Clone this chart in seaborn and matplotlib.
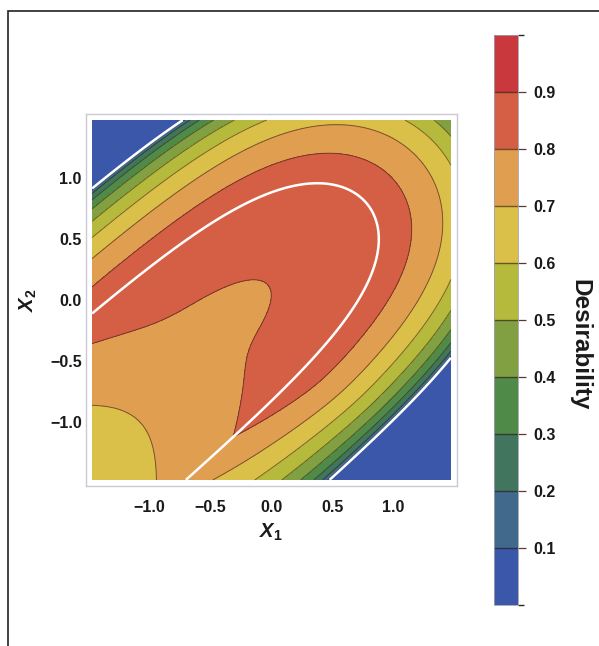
import numpy as np
import matplotlib
matplotlib.use("Agg")
import matplotlib.pyplot as plt
import seaborn as sns
from matplotlib.colors import ListedColormap, BoundaryNorm
from matplotlib.patches import Rectangle

# ---------------- data ----------------
x_limits = [-1.47, 1.47]
levels = [0.0, 0.1, 0.2, 0.3, 0.4, 0.5, 0.6, 0.7, 0.8, 0.9, 1.0]
band_colors = ["#3B57A9", "#41698C", "#42755E", "#4F8A48", "#80A042",
               "#B5BA3D", "#DABF49", "#E09E50", "#D45F45", "#C9383C"]
axis_ticks = [-1.0, -0.5, 0.0, 0.5, 1.0]
axis_tick_labels = ["\u22121.0", "\u22120.5", "0.0", "0.5", "1.0"]
cbar_ticks = [0.1, 0.2, 0.3, 0.4, 0.5, 0.6, 0.7, 0.8, 0.9]
cbar_tick_labels = ["0.1", "0.2", "0.3", "0.4", "0.5", "0.6", "0.7", "0.8", "0.9"]

# fitted response y1 (u along the ridge, v across it)
ridge_center = [0.12, -0.07]        # v-centre = c0 + c1*u
ridge_halfwidth = [0.78]
ridge_growth = [1.45, 1.06, 14.0]   # rate, tip position, saturation
y1_limits = [-3.86, 1.0, 4.0]       # lower, target, upper
# second response desirability (plane + interaction, capped)
d2_coefs = [0.845, 0.0516, 0.1624, -0.02]   # const, x1, x2, x1*x2
d2_cap = [0.76]

# ---------------- style ----------------
sns.set_theme(style="white")
plt.rcParams['font.family'] = ['Liberation Sans', 'DejaVu Sans']
plt.rcParams['mathtext.fontset'] = 'custom'
plt.rcParams['mathtext.it'] = 'Liberation Sans:italic:bold'
plt.rcParams['mathtext.rm'] = 'Liberation Sans:bold'
plt.rcParams['mathtext.bf'] = 'Liberation Sans:bold'
palette = sns.color_palette(band_colors)
cmap = ListedColormap(palette)
norm = BoundaryNorm(levels, cmap.N)

# ---------------- surface ----------------
g = np.linspace(x_limits[0], x_limits[1], 600)
X1, X2 = np.meshgrid(g, g)
U = (X1 + X2) / np.sqrt(2)
V = (X2 - X1) / np.sqrt(2)
vc = ridge_center[0] + ridge_center[1] * U
k, u1, H = ridge_growth
hu = np.exp(k * (U - u1))
hu = hu / (1 + hu / H)
Y1 = ((V - vc) / ridge_halfwidth[0]) ** 2 + hu
L, T, Up = y1_limits
d1 = np.where(Y1 <= T, (Y1 - L) / (T - L), np.clip((Up - Y1) / (Up - T), 0, 1))
plane = d2_coefs[0] + d2_coefs[1] * X1 + d2_coefs[2] * X2 + d2_coefs[3] * X1 * X2
tau = 0.015
d2 = -tau * np.logaddexp(-plane / tau, -d2_cap[0] / tau)
D = np.clip(np.sqrt(d1 * d2), 0, 1)

# ---------------- figure ----------------
fig = plt.figure(figsize=(5.99, 6.46), dpi=100)
ax = fig.add_axes([86 / 599, 1 - 486 / 646, 371 / 599, 372 / 646])
cf = ax.contourf(X1, X2, D, levels=levels, cmap=cmap, norm=norm)
ax.contour(X1, X2, D, levels=levels[1:-1], colors=[(0.15, 0.08, 0.05, 0.55)],
           linewidths=0.7)
ax.contour(X1, X2, Y1, levels=[T, Up], colors="white", linewidths=1.8)
ax.set_xlim(-1.52, 1.52)
ax.set_ylim(-1.52, 1.52)
ax.set_xticks(axis_ticks)
ax.set_xticklabels(axis_tick_labels)
ax.set_yticks(axis_ticks)
ax.set_yticklabels(axis_tick_labels)
ax.tick_params(axis='x', length=0, pad=10, labelsize=11.5, labelcolor='#1a1a1a')
ax.tick_params(axis='y', length=0, pad=3, labelsize=11.5, labelcolor='#1a1a1a')
for lab in ax.get_xticklabels() + ax.get_yticklabels():
    lab.set_fontweight('bold')
for s in ax.spines.values():
    s.set_color('#C9CAD6')
    s.set_linewidth(1.0)

fig.text(271 / 599, 1 - 532 / 646, r"$X_1$", ha='center', va='center',
         fontsize=14.5, color='#1a1a1a')
fig.text(28 / 599, 1 - 300 / 646, r"$X_2$", ha='center', va='center',
         fontsize=14.5, rotation=90, color='#1a1a1a')

cax = fig.add_axes([494 / 599, 1 - 605 / 646, 24 / 599, 570 / 646])
cb = fig.colorbar(cf, cax=cax, ticks=cbar_ticks, drawedges=True)
cb.ax.set_yticklabels(cbar_tick_labels)
cb.outline.set_edgecolor('#A0A0A8')
cb.outline.set_linewidth(0.6)
cb.dividers.set_color((0.15, 0.08, 0.05, 0.6))
cb.dividers.set_linewidth(1.0)
cb.ax.tick_params(length=6, width=0.9, color='#5a3a30', pad=5, labelsize=11.5,
                  labelcolor='#1a1a1a')
for lab in cb.ax.get_yticklabels():
    lab.set_fontweight('bold')
fig.text(580 / 599, 1 - 345 / 646, "Desirability", rotation=270, ha='center',
         va='center', fontsize=17.5, fontweight='bold', color='#1a1a1a')

fig.patches.append(Rectangle((8 / 599, -0.1), 1.2, 1 - 11 / 646 + 0.1,
                             transform=fig.transFigure, fill=False,
                             edgecolor='#222222', linewidth=1.2))

fig.savefig("out.png", dpi=100)
